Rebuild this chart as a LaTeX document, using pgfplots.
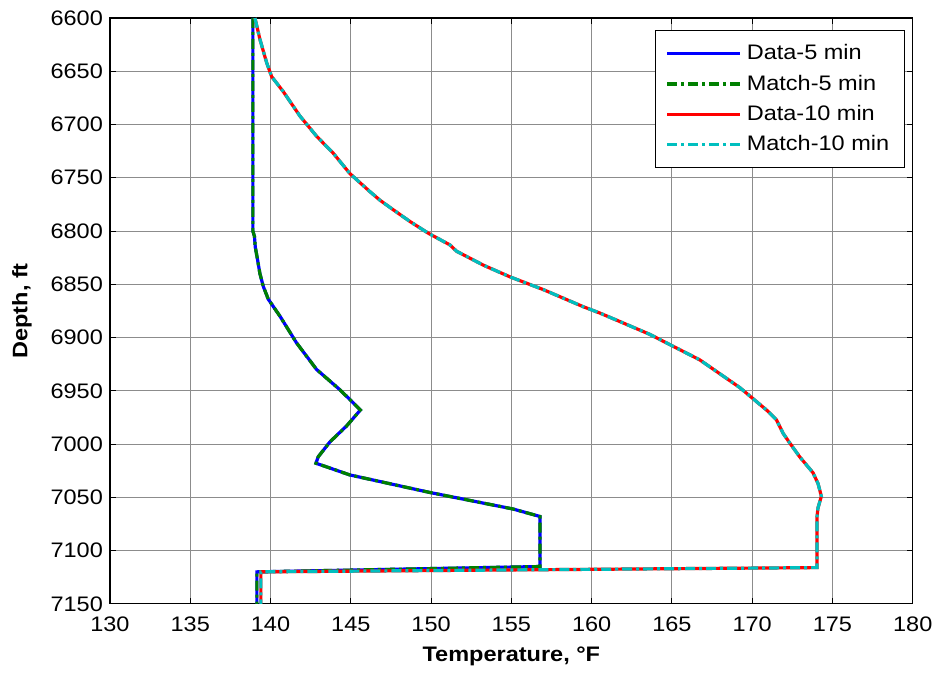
\documentclass[border=0pt]{standalone}
\usepackage{fontspec}
\setmainfont{Liberation Sans}[FakeStretch=1.12]
\usepackage{pgfplots}
\pgfplotsset{compat=1.18}
\definecolor{mblue}{rgb}{0,0,1}
\definecolor{mgreen}{rgb}{0,0.5,0}
\definecolor{mred}{rgb}{1,0,0}
\definecolor{mcyan}{rgb}{0,0.75,0.75}
\tikzset{mdashdot/.style={dash pattern=on 5pt off 2pt on 1.5pt off 2pt}}
\begin{document}
\begin{tikzpicture}
\begin{axis}[
  name=ax,
  scale only axis,
  width=401.5pt, height=293pt,
  xmin=130, xmax=180, ymin=6600, ymax=7150,
  y dir=reverse,
  xtick={130,135,...,180},
  ytick={6600,6650,...,7150},
  /pgf/number format/assume math mode=true,
  /pgf/number format/1000 sep={},
  tick label style={font=\fontsize{10.5pt}{12pt}\selectfont},
  xticklabel style={yshift=-3pt},
  label style={font=\fontsize{10.5pt}{12pt}\selectfont\bfseries},
  xlabel={Temperature, °F},
  ylabel={Depth, ft},
  xlabel style={at={(axis description cs:0.5,0)},anchor=base,yshift=-29pt},
  ylabel style={at={(axis description cs:-0.1096,0.5)},anchor=center},
  tick align=inside,
  major tick length=3pt,
  grid=major,
  major grid style={line width=0.5pt,draw=black!45},
  axis line style={line width=0.6pt,black},
  every tick/.style={black,line width=0.5pt},
  legend cell align=left,
  legend style={at={(1,1)},anchor=north east,xshift=-4pt,yshift=-6pt,
    draw=black,line width=0.5pt,fill=white,
    font=\fontsize{10.5pt}{12pt}\selectfont,
    inner xsep=5pt,inner ysep=5pt,row sep=2.1pt,
    nodes={inner xsep=2.5pt,inner ysep=2pt}},
  legend image code/.code={\draw[#1] (0pt,0pt) -- (36.5pt,0pt);},
]
\addplot[mblue,line width=1.6pt] coordinates {
(138.9,6600) (138.9,6800) (139.0,6805) (139.05,6815) (139.17,6825) (139.34,6840)
(139.55,6852) (139.86,6864) (140.59,6880) (141.62,6905) (142.87,6930) (144.32,6949)
(145.6,6968) (144.74,6983) (143.70,6998) (142.97,7012) (142.83,7018) (144.94,7029)
(149.93,7045.5) (155.11,7061) (156.78,7068) (156.78,7115) (139.15,7120) (139.15,7150)
};
\addlegendentry{Data-5 min}
\addplot[mgreen,line width=1.6pt,mdashdot] coordinates {
(138.9,6600) (138.9,6800) (139.0,6805) (139.05,6815) (139.17,6825) (139.34,6840)
(139.55,6852) (139.86,6864) (140.59,6880) (141.62,6905) (142.87,6930) (144.32,6949)
(145.6,6968) (144.74,6983) (143.70,6998) (142.97,7012) (142.83,7018) (144.94,7029)
(149.93,7045.5) (155.11,7061) (156.78,7068) (156.78,7115) (139.15,7120) (139.15,7150)
};
\addlegendentry{Match-5 min}
\addplot[mred,line width=1.6pt] coordinates {
(139.03,6600) (139.34,6620) (139.76,6642) (140.07,6655) (140.79,6669) (141.83,6692)
(142.87,6711) (143.91,6727) (144.94,6746) (146.19,6763) (146.81,6771) (147.64,6780)
(148.68,6791) (149.82,6802) (151.17,6813) (151.59,6819) (153.25,6832) (154.91,6843)
(156.99,6855) (159.47,6871) (160.51,6877) (161.76,6885) (163.62,6897) (166.74,6921)
(169.23,6947) (170.89,6968) (171.5,6977) (171.93,6990) (172.34,6999) (172.96,7012)
(173.79,7027) (174.10,7037) (174.31,7049) (174.10,7060) (174.04,7068) (174.04,7116)
(139.4,7120) (139.4,7150)
};
\addlegendentry{Data-10 min}
\addplot[mcyan,line width=1.6pt,mdashdot] coordinates {
(139.03,6600) (139.34,6620) (139.76,6642) (140.07,6655) (140.79,6669) (141.83,6692)
(142.87,6711) (143.91,6727) (144.94,6746) (146.19,6763) (146.81,6771) (147.64,6780)
(148.68,6791) (149.82,6802) (151.17,6813) (151.59,6819) (153.25,6832) (154.91,6843)
(156.99,6855) (159.47,6871) (160.51,6877) (161.76,6885) (163.62,6897) (166.74,6921)
(169.23,6947) (170.89,6968) (171.5,6977) (171.93,6990) (172.34,6999) (172.96,7012)
(173.79,7027) (174.10,7037) (174.31,7049) (174.10,7060) (174.04,7068) (174.04,7116)
(139.4,7120) (139.4,7150)
};
\addlegendentry{Match-10 min}
\end{axis}
\path (ax.south west) ++(-55pt,-32pt);
\path (ax.north east) ++(13pt,9pt);
\end{tikzpicture}
\end{document}
